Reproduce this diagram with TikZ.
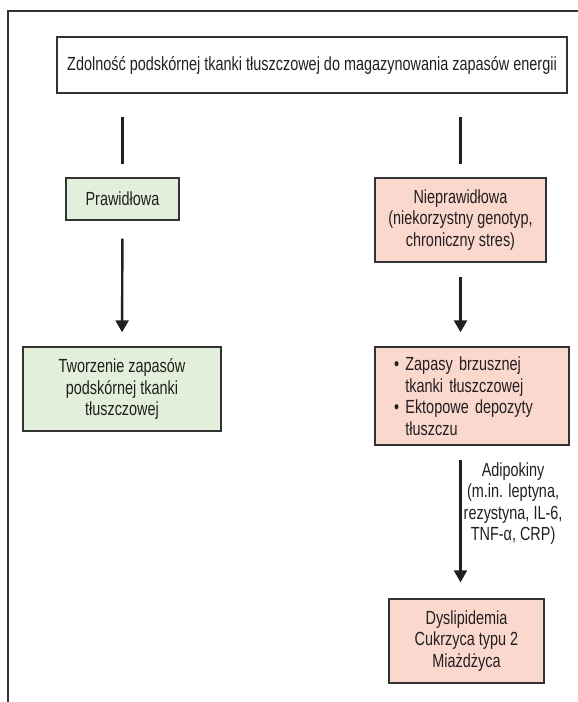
\documentclass[tikz,border=0pt]{standalone}
\usepackage{fontspec}
\setmainfont[FakeStretch=0.76]{Liberation Sans}
\usetikzlibrary{arrows.meta,positioning,calc}
\definecolor{goodfill}{RGB}{226,239,218}
\definecolor{badfill}{RGB}{251,216,205}
\definecolor{edgegray}{RGB}{51,51,51}
\definecolor{inkblack}{RGB}{35,31,32}
\tikzset{>={Triangle[length=12pt,width=13pt]}}
\tikzset{
  txt/.style={text=inkblack,font=\fontsize{19}{21.5}\selectfont},
  box/.style={txt,draw=edgegray,line width=1.4pt,align=center,inner sep=0pt},
  goodbox/.style={box,fill=goodfill},
  badbox/.style={box,fill=badfill},
  conn/.style={line width=2.4pt,draw=inkblack}
}

\begin{document}
\begin{tikzpicture}[x=1pt,y=-1pt]
  \useasboundingbox (0,0) rectangle (578,702);
  % frame
  \draw[edgegray,line width=1.5pt] (578,11) -- (8,11) -- (8,702);
  % boxes
  \node[box,minimum width=510pt,minimum height=56pt] (cap) at (312,65)
    {Zdolność podskórnej tkanki tłuszczowej do magazynowania zapasów energii};
  \node[goodbox,minimum width=113pt,minimum height=42pt] (ok) at (122.5,199) {Prawidłowa};
  \node[badbox,minimum width=171pt,minimum height=84pt] (bad) at (460.5,220)
    {Nieprawidłowa\\(niekorzystny genotyp,\\chroniczny stres)};
  \node[goodbox,minimum width=198pt,minimum height=84pt] (stock) at (122,389)
    {Tworzenie zapasów\\podskórnej tkanki\\tłuszczowej};
  \node[badbox,align=left,text width=156pt,inner xsep=19pt,minimum height=98pt] (ecto) at (472,396)
    {\textbullet\ Zapasy brzusznej\\\hphantom{\textbullet\ }tkanki tłuszczowej\\
     \textbullet\ Ektopowe depozyty\\\hphantom{\textbullet\ }tłuszczu};
  \node[badbox,minimum width=155pt,minimum height=84pt] (dys) at (466.5,641)
    {Dyslipidemia\\Cukrzyca typu 2\\Miażdżyca};
  % connectors
  \draw[conn,shorten <=23pt,shorten >=13pt] (cap.south -| ok.north) -- (ok.north);
  \draw[conn,shorten <=23pt,shorten >=13pt] (cap.south -| bad.north) -- (bad.north);
  \draw[conn,->,shorten <=18pt,shorten >=14pt] (ok.south) -- (stock.north);
  \draw[conn,->,shorten <=14pt,shorten >=14pt] (bad.south) -- (bad.south |- ecto.north);
  \draw[conn,->,shorten <=14pt,shorten >=16pt] (bad.south |- ecto.south) -- (bad.south |- dys.north)
    node[txt,pos=0.38,anchor=west,inner sep=2pt,align=center] (adipo)
    {Adipokiny\\(m.in. leptyna,\\rezystyna, IL-6,\\TNF-α, CRP)};
\end{tikzpicture}
\end{document}
